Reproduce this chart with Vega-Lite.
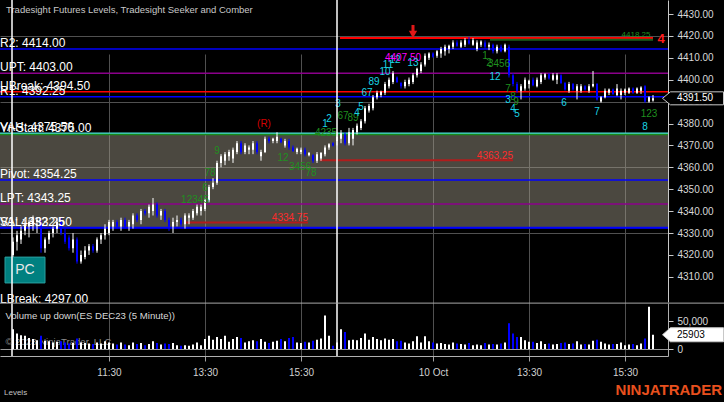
{
"$schema":"https://vega.github.io/schema/vega-lite/v6.json",
"background":"#000000",
"autosize":{"type":"none"},
"padding":{"left":0,"top":0,"right":56,"bottom":46},
"width":668,
"height":356,
"config":{"view":{"stroke":null},"font":"Liberation Sans","text":{"font":"Liberation Sans"},"axis":{"labelOverlap":false,"labelSeparation":0}},
"datasets":{
"bars":[
{"i":0,"o":4320,"h":4328,"l":4318,"c":4326,"v":36000},
{"i":1,"o":4326,"h":4331,"l":4322,"c":4329,"v":28000},
{"i":2,"o":4327,"h":4333,"l":4325,"c":4331,"v":25000},
{"i":3,"o":4331,"h":4336,"l":4329,"c":4334,"v":24000},
{"i":4,"o":4333,"h":4336,"l":4328,"c":4335,"v":20000},
{"i":5,"o":4334,"h":4338,"l":4331,"c":4335.5,"v":18000},
{"i":6,"o":4335,"h":4337,"l":4330,"c":4336,"v":16000},
{"i":7,"o":4334,"h":4336,"l":4321,"c":4323,"v":24000},
{"i":8,"o":4323,"h":4328,"l":4321,"c":4327,"v":15000},
{"i":9,"o":4327,"h":4331,"l":4325,"c":4330,"v":14000},
{"i":10,"o":4330,"h":4333,"l":4328,"c":4332,"v":12000},
{"i":11,"o":4332,"h":4337,"l":4330,"c":4335,"v":13000},
{"i":12,"o":4335,"h":4337,"l":4329,"c":4330,"v":14000},
{"i":13,"o":4330,"h":4332,"l":4325,"c":4326,"v":12000},
{"i":14,"o":4328,"h":4329,"l":4322,"c":4323,"v":10000},
{"i":15,"o":4323,"h":4330,"l":4321,"c":4327,"v":11000},
{"i":16,"o":4327,"h":4328,"l":4316,"c":4317,"v":19000},
{"i":17,"o":4317,"h":4322,"l":4316,"c":4320,"v":12000},
{"i":18,"o":4319,"h":4324,"l":4318,"c":4322,"v":11000},
{"i":19,"o":4322,"h":4325,"l":4320,"c":4324,"v":10000},
{"i":20,"o":4324,"h":4325,"l":4321,"c":4322,"v":9000},
{"i":21,"o":4322,"h":4328,"l":4321,"c":4327,"v":12000},
{"i":22,"o":4327,"h":4330,"l":4325,"c":4329,"v":10000},
{"i":23,"o":4329,"h":4334,"l":4327,"c":4332,"v":14000},
{"i":24,"o":4330,"h":4336,"l":4329,"c":4335,"v":12000},
{"i":25,"o":4333,"h":4336,"l":4331,"c":4335,"v":10000},
{"i":26,"o":4335,"h":4336,"l":4332,"c":4333,"v":8000},
{"i":27,"o":4333,"h":4337,"l":4331,"c":4336,"v":12000},
{"i":28,"o":4336,"h":4337,"l":4332,"c":4333,"v":8000},
{"i":29,"o":4333,"h":4336,"l":4331,"c":4335,"v":7000},
{"i":30,"o":4334,"h":4339,"l":4332,"c":4338,"v":12000},
{"i":31,"o":4338,"h":4339,"l":4335,"c":4336,"v":9000},
{"i":32,"o":4336,"h":4341,"l":4334,"c":4340,"v":11000},
{"i":33,"o":4340,"h":4341,"l":4338,"c":4339,"v":7000},
{"i":34,"o":4339,"h":4343,"l":4337,"c":4342,"v":9000},
{"i":35,"o":4340,"h":4346,"l":4338,"c":4343,"v":14000},
{"i":36,"o":4343,"h":4344,"l":4337,"c":4338,"v":11000},
{"i":37,"o":4338,"h":4341,"l":4336,"c":4340,"v":8000},
{"i":38,"o":4340,"h":4341,"l":4335,"c":4336,"v":10000},
{"i":39,"o":4336,"h":4337,"l":4331,"c":4333,"v":9000},
{"i":40,"o":4333,"h":4337,"l":4330,"c":4335,"v":11000},
{"i":41,"o":4335,"h":4338,"l":4333,"c":4336,"v":7000},
{"i":42,"o":4336,"h":4337,"l":4333,"c":4334,"v":6000},
{"i":43,"o":4334,"h":4339,"l":4332,"c":4338,"v":7000},
{"i":44,"o":4337,"h":4339,"l":4334,"c":4338,"v":6000},
{"i":45,"o":4337,"h":4341,"l":4336,"c":4340,"v":8000},
{"i":46,"o":4339,"h":4343,"l":4338,"c":4342,"v":12000},
{"i":47,"o":4340,"h":4343,"l":4338,"c":4342,"v":7000},
{"i":48,"o":4341,"h":4346,"l":4340,"c":4345,"v":18000},
{"i":49,"o":4345,"h":4352,"l":4344,"c":4351,"v":24000},
{"i":50,"o":4351,"h":4355,"l":4350,"c":4353,"v":17000},
{"i":51,"o":4353,"h":4363,"l":4352,"c":4362,"v":22000},
{"i":52,"o":4362,"h":4366,"l":4360,"c":4365,"v":18000},
{"i":53,"o":4363,"h":4367,"l":4361,"c":4366,"v":24000},
{"i":54,"o":4365,"h":4368,"l":4363,"c":4367,"v":13000},
{"i":55,"o":4364,"h":4369,"l":4362,"c":4368,"v":18000},
{"i":56,"o":4367,"h":4372,"l":4366,"c":4371,"v":22000},
{"i":57,"o":4371,"h":4372,"l":4366,"c":4367,"v":20000},
{"i":58,"o":4367,"h":4371,"l":4366,"c":4370,"v":12000},
{"i":59,"o":4368,"h":4370,"l":4366,"c":4369,"v":14000},
{"i":60,"o":4368,"h":4372,"l":4366,"c":4371,"v":16000},
{"i":61,"o":4371,"h":4372,"l":4366,"c":4367,"v":14000},
{"i":62,"o":4365,"h":4368,"l":4363,"c":4367,"v":18000},
{"i":63,"o":4367,"h":4374,"l":4366.5,"c":4373,"v":13000},
{"i":64,"o":4373,"h":4374,"l":4371,"c":4372,"v":11000},
{"i":65,"o":4372,"h":4373.5,"l":4371,"c":4373,"v":13000},
{"i":66,"o":4372,"h":4376,"l":4371,"c":4374,"v":15000},
{"i":67,"o":4373,"h":4373.5,"l":4371,"c":4371.5,"v":18000},
{"i":68,"o":4370,"h":4373,"l":4369,"c":4372,"v":14000},
{"i":69,"o":4372,"h":4373,"l":4368,"c":4369,"v":20000},
{"i":70,"o":4369,"h":4370,"l":4367,"c":4367.5,"v":22000},
{"i":71,"o":4367,"h":4369,"l":4366,"c":4368.5,"v":12000},
{"i":72,"o":4367,"h":4369,"l":4366,"c":4368,"v":11000},
{"i":73,"o":4368,"h":4369,"l":4365,"c":4366,"v":13000},
{"i":74,"o":4365.5,"h":4367,"l":4365,"c":4366.5,"v":12000},
{"i":75,"o":4365.5,"h":4366,"l":4362,"c":4363,"v":15000},
{"i":76,"o":4363,"h":4367,"l":4362,"c":4366,"v":17000},
{"i":77,"o":4364,"h":4367,"l":4363,"c":4366.5,"v":19000},
{"i":78,"o":4366,"h":4370,"l":4365,"c":4369,"v":61000},
{"i":79,"o":4369,"h":4371,"l":4368,"c":4370.5,"v":24000},
{"i":80,"o":4371,"h":4371.5,"l":4369.5,"c":4370,"v":6000},
{"i":81,"o":4372,"h":4376,"l":4370,"c":4374,"v":12000},
{"i":82,"o":4373,"h":4377,"l":4371,"c":4375.5,"v":36000},
{"i":83,"o":4375,"h":4376,"l":4370,"c":4371,"v":31000},
{"i":84,"o":4371,"h":4378,"l":4370,"c":4376,"v":16000},
{"i":85,"o":4373,"h":4378,"l":4370,"c":4377,"v":17000},
{"i":86,"o":4376,"h":4380,"l":4375,"c":4379,"v":16000},
{"i":87,"o":4378,"h":4382,"l":4377,"c":4381,"v":20000},
{"i":88,"o":4381,"h":4388,"l":4380,"c":4387,"v":28000},
{"i":89,"o":4386,"h":4389,"l":4385,"c":4388,"v":17000},
{"i":90,"o":4387,"h":4393,"l":4386,"c":4392,"v":22000},
{"i":91,"o":4392,"h":4395,"l":4391,"c":4394,"v":18000},
{"i":92,"o":4393,"h":4395,"l":4392,"c":4394.5,"v":16000},
{"i":93,"o":4394,"h":4399,"l":4393,"c":4398,"v":19000},
{"i":94,"o":4397,"h":4401,"l":4396,"c":4400,"v":17000},
{"i":95,"o":4399,"h":4404,"l":4398,"c":4403,"v":18000},
{"i":96,"o":4401,"h":4401.5,"l":4398.5,"c":4399,"v":14000},
{"i":97,"o":4398.5,"h":4399,"l":4396,"c":4397,"v":15000},
{"i":98,"o":4397,"h":4400,"l":4396,"c":4399,"v":12000},
{"i":99,"o":4398,"h":4401,"l":4397,"c":4400,"v":10000},
{"i":100,"o":4399,"h":4403,"l":4398,"c":4402,"v":14000},
{"i":101,"o":4402,"h":4405.5,"l":4401,"c":4405,"v":23000},
{"i":102,"o":4404,"h":4408,"l":4403,"c":4407,"v":12000},
{"i":103,"o":4407,"h":4412,"l":4406,"c":4411,"v":23000},
{"i":104,"o":4410,"h":4412.5,"l":4409,"c":4412,"v":14000},
{"i":105,"o":4412,"h":4412.5,"l":4410,"c":4410.5,"v":12000},
{"i":106,"o":4411,"h":4413.5,"l":4410,"c":4413,"v":10000},
{"i":107,"o":4412,"h":4415,"l":4410,"c":4414,"v":11000},
{"i":108,"o":4413,"h":4416,"l":4411,"c":4415,"v":9000},
{"i":109,"o":4414,"h":4416,"l":4412,"c":4415.5,"v":8000},
{"i":110,"o":4415,"h":4418,"l":4414,"c":4417,"v":12000},
{"i":111,"o":4417,"h":4418,"l":4415,"c":4415.5,"v":10000},
{"i":112,"o":4415,"h":4418,"l":4414.5,"c":4417,"v":9000},
{"i":113,"o":4416,"h":4419,"l":4415,"c":4418,"v":8000},
{"i":114,"o":4418,"h":4419.5,"l":4416,"c":4416.5,"v":11000},
{"i":115,"o":4416,"h":4419,"l":4415.5,"c":4418,"v":7000},
{"i":116,"o":4414,"h":4418,"l":4413,"c":4417,"v":8000},
{"i":117,"o":4416,"h":4418,"l":4415,"c":4417.5,"v":7000},
{"i":118,"o":4417,"h":4418,"l":4414,"c":4415,"v":11000},
{"i":119,"o":4415,"h":4417,"l":4413.5,"c":4416,"v":8000},
{"i":120,"o":4416,"h":4416.5,"l":4412,"c":4413,"v":9000},
{"i":121,"o":4413,"h":4416,"l":4412,"c":4415,"v":8000},
{"i":122,"o":4415,"h":4416,"l":4412.5,"c":4413,"v":10000},
{"i":123,"o":4413,"h":4416.5,"l":4412.5,"c":4416,"v":12000},
{"i":124,"o":4415,"h":4416,"l":4401,"c":4402,"v":47000},
{"i":125,"o":4402,"h":4403,"l":4397,"c":4398,"v":28000},
{"i":126,"o":4398,"h":4399,"l":4394,"c":4395,"v":22000},
{"i":127,"o":4395,"h":4398,"l":4391,"c":4397,"v":22000},
{"i":128,"o":4396,"h":4401,"l":4395,"c":4400,"v":16000},
{"i":129,"o":4398,"h":4400,"l":4396,"c":4399.5,"v":13000},
{"i":130,"o":4400,"h":4401,"l":4397,"c":4397.5,"v":13000},
{"i":131,"o":4397,"h":4401,"l":4396.5,"c":4400,"v":11000},
{"i":132,"o":4399,"h":4403,"l":4398,"c":4402,"v":14000},
{"i":133,"o":4401,"h":4403,"l":4400,"c":4402.5,"v":9000},
{"i":134,"o":4402.5,"h":4403,"l":4400,"c":4400.5,"v":10000},
{"i":135,"o":4400,"h":4403,"l":4399.5,"c":4402,"v":8000},
{"i":136,"o":4400,"h":4403,"l":4398,"c":4402,"v":9000},
{"i":137,"o":4402,"h":4402.5,"l":4398,"c":4398.5,"v":11000},
{"i":138,"o":4398.5,"h":4399,"l":4395,"c":4395.5,"v":12000},
{"i":139,"o":4395,"h":4399,"l":4394,"c":4398,"v":9000},
{"i":140,"o":4398,"h":4398.5,"l":4395,"c":4395.5,"v":10000},
{"i":141,"o":4395,"h":4398,"l":4391,"c":4397,"v":14000},
{"i":142,"o":4395,"h":4398,"l":4394,"c":4397,"v":8000},
{"i":143,"o":4397,"h":4397.5,"l":4395,"c":4395.5,"v":9000},
{"i":144,"o":4395,"h":4398,"l":4394,"c":4397,"v":8000},
{"i":145,"o":4397,"h":4404,"l":4396.5,"c":4398,"v":15000},
{"i":146,"o":4398,"h":4398.5,"l":4390.5,"c":4391,"v":17000},
{"i":147,"o":4390,"h":4392.5,"l":4389.5,"c":4392,"v":13000},
{"i":148,"o":4392,"h":4396,"l":4391.5,"c":4395,"v":10000},
{"i":149,"o":4394,"h":4396,"l":4393,"c":4395.5,"v":8000},
{"i":150,"o":4395.5,"h":4396,"l":4393,"c":4393.5,"v":9000},
{"i":151,"o":4393,"h":4398,"l":4392.5,"c":4396,"v":9000},
{"i":152,"o":4393,"h":4396,"l":4391,"c":4395,"v":12000},
{"i":153,"o":4394,"h":4396,"l":4393,"c":4395.5,"v":7000},
{"i":154,"o":4394,"h":4396.5,"l":4393.5,"c":4396,"v":8000},
{"i":155,"o":4396,"h":4396.5,"l":4393.5,"c":4394,"v":9000},
{"i":156,"o":4394,"h":4396.5,"l":4393.5,"c":4396,"v":7000},
{"i":157,"o":4395,"h":4397,"l":4393.5,"c":4396.5,"v":10000},
{"i":158,"o":4397,"h":4397.5,"l":4389.5,"c":4390,"v":19000},
{"i":159,"o":4390,"h":4392.5,"l":4389.5,"c":4392,"v":77000},
{"i":160,"o":4390.5,"h":4393,"l":4390,"c":4391.5,"v":25903}
],
"levels":[
{"lab":"R2: 4414.00","p":4414,"k":"R"},
{"lab":"UPT: 4403.00","p":4403,"k":"PT"},
{"lab":"UBreak: 4394.50","p":4394.5,"k":"Break"},
{"lab":"R1: 4392.25","p":4392.25,"k":"R"},
{"lab":"VAH: 4375.50","p":4375.5,"k":"VAH"},
{"lab":"Yr-Start: 4375.00","p":4375,"k":"Start"},
{"lab":"Pivot: 4354.25","p":4354.25,"k":"R"},
{"lab":"LPT: 4343.25","p":4343.25,"k":"PT"},
{"lab":"VAL: 4332.50","p":4332.5,"k":"R"},
{"lab":"S1: 4332.25","p":4332.25,"k":"R"},
{"lab":"LBreak: 4297.00","p":4297,"k":"Break"}
],
"zone":[{"lo":4332.5,"hi":4375}],
"sessions":[{"i":-0.25},{"i":81}],
"segments":[
{"k":"Top","p":4419,"i0":81.75,"i1":160},
{"k":"Target","p":4418.25,"i0":119.25,"i1":160},
{"k":"Support","p":4363.25,"i0":76.75,"i1":125,"lab":"4363.25"},
{"k":"Support","p":4334.75,"i0":43,"i1":73.75,"lab":"4334.75"}
],
"annot":[
{"t":"3","i":81.25,"p":4388.9,"k":"Count"},
{"t":"67","i":82.5,"p":4383.4,"k":"Setup"},
{"t":"89","i":85,"p":4382.5,"k":"Setup"},
{"t":"4","i":86,"p":4384.8,"k":"Count"},
{"t":"5","i":87,"p":4387.5,"k":"Count"},
{"t":"67","i":88.5,"p":4393.9,"k":"Count"},
{"t":"89","i":90.25,"p":4399,"k":"Count"},
{"t":"10","i":93,"p":4403.5,"k":"Count"},
{"t":"11","i":93.75,"p":4406.7,"k":"Count"},
{"t":"12","i":95.5,"p":4409,"k":"Count"},
{"t":"4407.50","i":97.5,"p":4409.9,"k":"Pivot"},
{"t":"13","i":100,"p":4407.6,"k":"Count"},
{"t":"1","i":118,"p":4410.8,"k":"Setup"},
{"t":"2","i":119,"p":4407.6,"k":"Setup"},
{"t":"3456","i":121.5,"p":4407.2,"k":"Setup"},
{"t":"12","i":120.5,"p":4401.2,"k":"Count"},
{"t":"7","i":123.75,"p":4395.8,"k":"Setup"},
{"t":"8","i":125,"p":4392.1,"k":"Setup"},
{"t":"9","i":125.75,"p":4389.8,"k":"Setup"},
{"t":"3","i":123.75,"p":4390.7,"k":"Count"},
{"t":"4","i":125,"p":4386.6,"k":"Count"},
{"t":"5","i":126,"p":4384.3,"k":"Count"},
{"t":"6","i":137.75,"p":4389.4,"k":"Count"},
{"t":"7","i":146,"p":4385.3,"k":"Count"},
{"t":"123","i":159,"p":4384.3,"k":"Setup"},
{"t":"8","i":158,"p":4378.4,"k":"Count"},
{"t":"12345","i":45.5,"p":4345.1,"k":"Setup"},
{"t":"6","i":48,"p":4350.5,"k":"Setup"},
{"t":"78","i":49.25,"p":4357.4,"k":"Setup"},
{"t":"9","i":51,"p":4367.4,"k":"Setup"},
{"t":"12","i":67.5,"p":4364.2,"k":"Setup"},
{"t":"3456","i":71.75,"p":4360.1,"k":"Setup"},
{"t":"78","i":74.5,"p":4357.4,"k":"Setup"},
{"t":"4235","i":78.25,"p":4375.7,"k":"Setup"},
{"t":"1","i":78,"p":4379.8,"k":"Count"},
{"t":"2","i":79,"p":4382,"k":"Count"},
{"t":"(R)","i":62.75,"p":4379.8,"k":"Rev"},
{"t":"4418.25","i":155.75,"p":4420.2,"k":"Setup"}
],
"last":[{"p":4391.5,"v":25903}]
},
"resolve":{"scale":{"y":"independent"},"axis":{"y":"independent"}},
"layer":[
{
"layer":[
{"data":{"name":"zone"},"mark":{"type":"rect","fill":"#a39e8b","opacity":0.46},
 "encoding":{
  "y":{"field":"lo","type":"quantitative","scale":{"domain":[4298.5,4436.4],"range":[302,0],"nice":false,"zero":false},
   "axis":{"orient":"right","title":null,"values":[4310,4320,4330,4340,4350,4360,4370,4380,4390,4400,4410,4420,4430],"tickCount":30,"format":".2f","labelOverlap":false,"labelBound":false,"labelColor":"#d8d8d8","labelFontSize":10,"labelFont":"Liberation Sans","labelPadding":4,"tickSize":5,"tickColor":"#c8c8c8","domainColor":"#c8c8c8","grid":true,"gridColor":"#505050","gridOpacity":{"condition":{"test":"datum.value % 30 == 10","value":1},"value":0}}},
  "y2":{"field":"hi"}}},
{"data":{"name":"levels"},"transform":[{"filter":"datum.p > 4298.5"}],"mark":{"type":"rule","strokeWidth":1.5},
 "encoding":{"y":{"field":"p","type":"quantitative"},
  "color":{"field":"k","type":"nominal","legend":null,"scale":{"domain":["R","PT","Break","VAH","Start","Top","Target","Support","Count","Setup","Pivot","Rev"],"range":["#0000ff","#8b008b","#ff0000","#4adada","#1a8a1a","#ff0000","#1b5e1b","#b01c1c","#19d5e6","#1f8f1f","#ff00ff","#d40000"]}}}},
{"data":{"name":"segments"},"mark":{"type":"rule","strokeWidth":2},
 "encoding":{"x":{"field":"i0","type":"quantitative"},"x2":{"field":"i1"},"y":{"field":"p","type":"quantitative"},
  "color":{"field":"k","type":"nominal","legend":null}}},
{"data":{"name":"bars"},"mark":{"type":"rule","strokeWidth":1},
 "encoding":{
  "x":{"field":"i","type":"quantitative","scale":{"domain":[-3.25,163.75],"nice":false,"zero":false,"padding":0}},
  "y":{"field":"l","type":"quantitative"},"y2":{"field":"h"},
  "color":{"condition":{"test":"datum.c < datum.o","value":"#0000ff"},"value":"#ffffff"}}},
{"data":{"name":"bars"},"mark":{"type":"bar","size":2},
 "encoding":{"x":{"field":"i","type":"quantitative"},"y":{"field":"o","type":"quantitative"},"y2":{"field":"c"},
  "color":{"condition":{"test":"datum.c < datum.o","value":"#0000ff"},"value":"#ffffff"}}},
{"data":{"values":[{"i":100,"p0":4425,"p1":4421.8,"tip":4420.7}]},
 "layer":[
  {"mark":{"type":"rule","color":"#e01818","strokeWidth":3},"encoding":{"x":{"field":"i","type":"quantitative"},"y":{"field":"p0","type":"quantitative"},"y2":{"field":"p1"}}},
  {"mark":{"type":"point","shape":"triangle-down","filled":true,"color":"#e01818","size":70,"opacity":1},"encoding":{"x":{"field":"i","type":"quantitative"},"y":{"field":"tip","type":"quantitative"}}}
 ]},
{"data":{"name":"segments"},"transform":[{"filter":"datum.lab"}],
 "mark":{"type":"text","align":"right","baseline":"alphabetic","dy":-1.5,"fontSize":10,"color":"#ff2b2b"},
 "encoding":{"x":{"field":"i1","type":"quantitative"},"y":{"field":"p","type":"quantitative"},"text":{"field":"lab"}}},
{"data":{"name":"levels"},
 "mark":{"type":"text","align":"left","baseline":"alphabetic","dy":-2,"fontSize":12,"color":"#ffffff"},
 "encoding":{"x":{"datum":-3.25,"type":"quantitative"},"y":{"field":"p","type":"quantitative"},"text":{"field":"lab"}}},
{"data":{"name":"annot"},
 "mark":{"type":"text","align":"center","baseline":"middle"},
 "encoding":{"x":{"field":"i","type":"quantitative"},"y":{"field":"p","type":"quantitative"},"text":{"field":"t"},
  "size":{"condition":{"test":"datum.t == '4418.25'","value":8},"value":10},
  "color":{"field":"k","type":"nominal","legend":null}}},
{"data":{"values":[{"t":"4","i":162,"p":4418.4}]},
 "mark":{"type":"text","align":"center","baseline":"middle","fontSize":13,"fontWeight":"bold","color":"#ff1a1a"},
 "encoding":{"x":{"field":"i","type":"quantitative"},"y":{"field":"p","type":"quantitative"},"text":{"field":"t"}}},
{"data":{"values":[{"t":"Tradesight Futures Levels, Tradesight Seeker and Comber"}]},
 "mark":{"type":"text","align":"left","baseline":"middle","fontSize":9.5,"color":"#c8c8c8"},
 "encoding":{"x":{"datum":-1.75,"type":"quantitative"},"y":{"datum":4431.8,"type":"quantitative"},"text":{"field":"t"}}},
{"data":{"values":[{"i0":-2,"i1":8,"p0":4307.2,"p1":4319,"ic":3,"pm":4313.1,"t":"PC"}]},
 "layer":[
  {"mark":{"type":"rect","fill":"#008080","stroke":"#2aa0a0","strokeWidth":1},"encoding":{"x":{"field":"i0","type":"quantitative"},"x2":{"field":"i1"},"y":{"field":"p0","type":"quantitative"},"y2":{"field":"p1"}}},
  {"mark":{"type":"text","align":"center","baseline":"middle","fontSize":14,"color":"#e8e8e8"},"encoding":{"x":{"field":"ic","type":"quantitative"},"y":{"field":"pm","type":"quantitative"},"text":{"field":"t"}}}
 ]},
{"data":{"name":"last"},
 "layer":[
  {"mark":{"type":"point","shape":"M-1,0L-0.74,-0.213L1,-0.213L1,0.213L-0.74,0.213Z","size":3721,"filled":true,"fill":"#000000","stroke":"#c8c8c8","strokeWidth":1,"opacity":1},
   "encoding":{"x":{"datum":170,"type":"quantitative"},"y":{"field":"p","type":"quantitative"}}},
  {"mark":{"type":"text","align":"left","baseline":"middle","fontSize":10,"color":"#ffffff"},
   "encoding":{"x":{"datum":166,"type":"quantitative"},"y":{"field":"p","type":"quantitative"},"text":{"field":"p","type":"quantitative","format":".2f"}}}
 ]}
]
},
{
"layer":[
{"data":{"name":"sessions"},"mark":{"type":"rule","color":"#ffffff","strokeWidth":1.5},
 "encoding":{"x":{"field":"i","type":"quantitative","scale":{"domain":[-3.25,163.75],"nice":false,"zero":false,"padding":0},
   "axis":{"title":null,"values":[24,48,72,105,129,153],"tickCount":30,"labelExpr":"datum.value == 24 ? '11:30' : datum.value == 48 ? '13:30' : datum.value == 72 ? '15:30' : datum.value == 105 ? '10 Oct' : datum.value == 129 ? '13:30' : '15:30'","labelColor":"#d0d0d0","labelFontSize":10,"labelFont":"Liberation Sans","labelPadding":6,"labelFlush":false,"tickSize":5,"tickColor":"#a0a0a0","domainColor":"#b0b0b0","grid":true,"gridColor":"#505050"}}}},
{"data":{"values":[{"t":"top"}]},"mark":{"type":"rule","color":"#a8a8a8","strokeWidth":1},
 "encoding":{"x":{"datum":-3.25,"type":"quantitative"},"x2":{"datum":177.75},"y":{"datum":83400,"type":"quantitative","scale":{"domain":[-12700,83600],"range":[356,303],"nice":false,"zero":false}}}},
{"data":{"values":[{"t":"© 2023 NinjaTrader, LLC"}]},
 "mark":{"type":"text","align":"left","baseline":"middle","fontSize":9.6,"color":"#8c8c8c"},
 "encoding":{"x":{"datum":-1.9,"type":"quantitative"},"y":{"datum":12000,"type":"quantitative"},"text":{"field":"t"}}},
{"data":{"name":"bars"},"mark":{"type":"rule","strokeWidth":2},
 "encoding":{"x":{"field":"i","type":"quantitative"},
  "y":{"field":"v","type":"quantitative",
   "axis":{"orient":"right","title":null,"values":[0,50000],"tickCount":10,"labelColor":"#d8d8d8","labelFontSize":10,"labelFont":"Liberation Sans","labelPadding":4,"tickSize":5,"tickColor":"#c8c8c8","domainColor":"#b0b0b0","grid":true,"gridColor":"#9a9a9a","gridOpacity":{"condition":{"test":"datum.value == 0","value":1},"value":0}}},
  "y2":{"datum":0},
  "color":{"condition":{"test":"datum.c < datum.o","value":"#0000ff"},"value":"#ffffff"}}},
{"data":{"values":[{"t":"Volume up down(ES DEC23 (5 Minute))"}]},
 "mark":{"type":"text","align":"left","baseline":"middle","fontSize":9.6,"color":"#d8d8d8"},
 "encoding":{"x":{"datum":-1.9,"type":"quantitative"},"y":{"datum":60000,"type":"quantitative"},"text":{"field":"t"}}},
{"data":{"name":"last"},
 "layer":[
  {"mark":{"type":"point","shape":"M-1,0L-0.74,-0.23L1,-0.23L1,0.23L-0.74,0.23Z","size":3721,"filled":true,"fill":"#ffffff","stroke":"#c8c8c8","strokeWidth":1,"opacity":1},
   "encoding":{"x":{"datum":170,"type":"quantitative"},"y":{"field":"v","type":"quantitative"}}},
  {"mark":{"type":"text","align":"left","baseline":"middle","fontSize":10,"color":"#000000"},
   "encoding":{"x":{"datum":166,"type":"quantitative"},"y":{"field":"v","type":"quantitative"},"text":{"field":"v","type":"quantitative","format":"d"}}}
 ]},
{"data":{"values":[{"t":"NINJATRADER"}]},
 "mark":{"type":"text","align":"right","baseline":"middle","fontSize":15,"fontWeight":"bold","color":"#e8501e"},
 "encoding":{"x":{"datum":177.25,"type":"quantitative"},"y":{"datum":-74500,"type":"quantitative"},"text":{"field":"t"}}},
{"data":{"values":[{"t":"Levels"}]},
 "mark":{"type":"text","align":"left","baseline":"middle","fontSize":8,"color":"#c0c0c0"},
 "encoding":{"x":{"datum":-2.25,"type":"quantitative"},"y":{"datum":-80000,"type":"quantitative"},"text":{"field":"t"}}}
]
}
]
}
